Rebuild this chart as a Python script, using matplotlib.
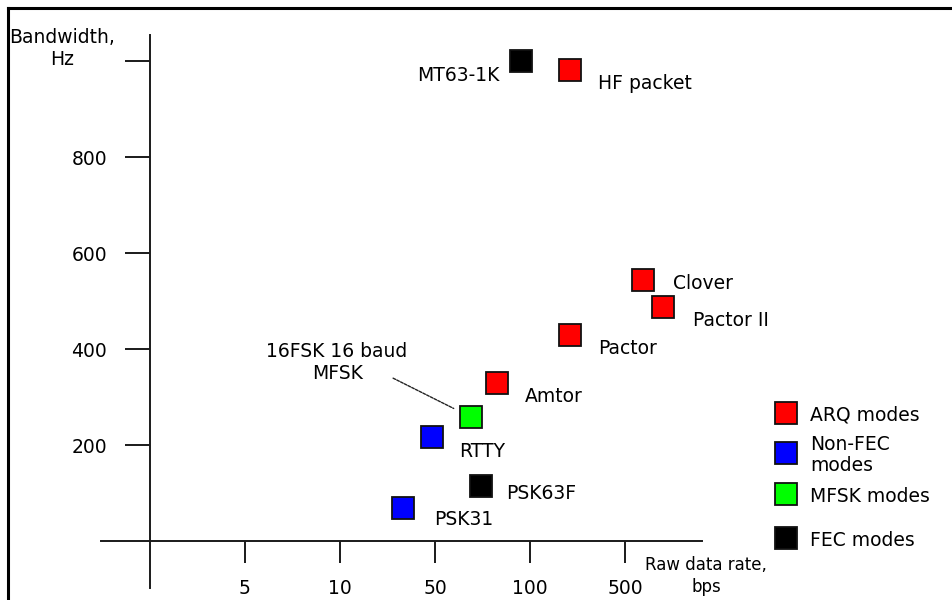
import matplotlib.pyplot as plt
from matplotlib.lines import Line2D

# x positions are slots on a categorical rate scale (tick i -> slot i)
rate_ticks = ['5', '10', '50', '100', '500']
bw_ticks = [200, 400, 600, 800, 1000]
bw_tick_labels = ['200', '400', '600', '800', '']

modes = ['MT63-1K', 'HF packet', 'Clover', 'Pactor II', 'Pactor', 'Amtor',
         '16FSK 16 baud\nMFSK', 'RTTY', 'PSK63F', 'PSK31']
rate_pos = [3.90, 4.42, 5.19, 5.40, 4.42, 3.65, 3.38, 2.97, 3.48, 2.66]
bandwidth = [1000, 981, 544, 487, 429, 329, 258, 217, 115, 69]
kind = ['FEC', 'ARQ', 'ARQ', 'ARQ', 'ARQ', 'ARQ', 'MFSK', 'Non-FEC', 'FEC', 'Non-FEC']

legend_names = ['ARQ modes', 'Non-FEC\nmodes', 'MFSK modes', 'FEC modes']
legend_kinds = ['ARQ', 'Non-FEC', 'MFSK', 'FEC']
colors = {'ARQ': '#ff0000', 'Non-FEC': '#0000ff', 'MFSK': '#00ff00', 'FEC': '#000000'}

plt.rcParams['font.family'] = ['DejaVu Sans']
fs = 13.5

fig = plt.figure(figsize=(9.52, 6), dpi=100)
ax = fig.add_axes([0, 0, 1, 1])
ax.set_xlim(-150 / 95, 802 / 95)
ax.set_ylim(-59 / 0.48, 541 / 0.48)

for s in ['top', 'right']:
    ax.spines[s].set_visible(False)
ax.spines['left'].set_position(('data', 0))
ax.spines['bottom'].set_position(('data', 0))
ax.spines['left'].set_bounds(-47 / 0.48, 506 / 0.48)
ax.spines['bottom'].set_bounds(-49 / 95, 552 / 95)
for s in ['left', 'bottom']:
    ax.spines[s].set_linewidth(1.4)
    ax.spines[s].set_color('#1a1a1a')

ax.set_xticks(range(1, len(rate_ticks) + 1))
ax.set_xticklabels(rate_ticks, fontsize=fs)
ax.set_yticks(bw_ticks)
ax.set_yticklabels(bw_tick_labels, fontsize=fs)
ax.tick_params(axis='x', direction='out', length=16, width=1.4, pad=11, color='#1a1a1a')
ax.tick_params(axis='y', direction='out', length=18, width=1.4, pad=13, color='#1a1a1a')

# data points
for name, x, y, k in zip(modes, rate_pos, bandwidth, kind):
    ax.plot(x, y, 's', ms=15.5, mfc=colors[k], mec='#111111', mew=1.3, zorder=3)

# point labels (offsets in pixels)
offsets = {
    'MT63-1K': (-21, -14, 'right'),
    'HF packet': (28, -13, 'left'),
    'Clover': (30, -4, 'left'),
    'Pactor II': (30, -13, 'left'),
    'Pactor': (28, -13, 'left'),
    'Amtor': (28, -13, 'left'),
    'RTTY': (27, -15, 'left'),
    'PSK63F': (26, -8, 'left'),
    'PSK31': (31, -12, 'left'),
}
for name, x, y in zip(modes, rate_pos, bandwidth):
    if name in offsets:
        dx, dy, ha = offsets[name]
        ax.annotate(name, (x, y), xytext=(dx, dy), textcoords='offset pixels',
                    ha=ha, va='center', fontsize=fs)

i = modes.index('16FSK 16 baud\nMFSK')
ax.annotate(modes[i], (rate_pos[i], bandwidth[i]), xytext=(-134, 55),
            textcoords='offset pixels', ha='center', va='center', fontsize=fs,
            linespacing=1.2)
ax.annotate('', (rate_pos[i], bandwidth[i]), xytext=(-78, 39),
            textcoords='offset pixels',
            arrowprops=dict(arrowstyle='-', lw=1.0, color='#222222',
                            linestyle=(0, (2, 1)), shrinkA=0, shrinkB=14))

# axis titles
ax.text(-88 / 95, 493 / 0.48, 'Bandwidth,\nHz', ha='center', va='center',
        fontsize=fs, linespacing=1.2)
ax.text(556 / 95, -35 / 0.48, 'Raw data rate,\nbps', ha='center', va='center',
        fontsize=12, linespacing=1.35)

# legend drawn as marks + text
leg_y = [128, 88, 47, 3]
for name, k, ly in zip(legend_names, legend_kinds, leg_y):
    ax.plot(636 / 95, ly / 0.48, 's', ms=15.5, mfc=colors[k], mec='#111111',
            mew=1.3, zorder=3)
    ax.text(660 / 95, (ly - 2) / 0.48, name, ha='left', va='center',
            fontsize=fs, linespacing=1.15)

# frame on top and left edge of the picture
fig.add_artist(Line2D([8 / 952, 1], [1 - 8 / 600, 1 - 8 / 600], lw=2.2,
                      color='black', transform=fig.transFigure))
fig.add_artist(Line2D([8 / 952, 8 / 952], [0, 1 - 8 / 600], lw=2.2,
                      color='black', transform=fig.transFigure))

fig.savefig('out.png', dpi=100)
